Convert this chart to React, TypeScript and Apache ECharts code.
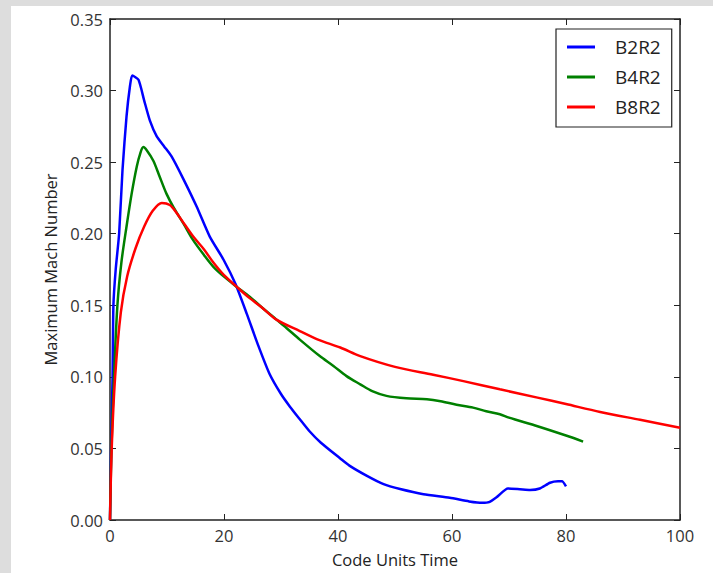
import React, { useEffect, useRef } from "react";
import * as echarts from "echarts";

const seriesNames = ["B2R2", "B4R2", "B8R2"];
const seriesColors = ["#0000ff", "#008000", "#ff0000"];

const b2r2Time = [0, 0.2, 0.45, 0.6, 1.0, 1.6, 2.2, 2.9, 3.5, 3.9, 5.0, 6.0, 7.0, 8.2, 9.5, 10.8, 12.9, 15.2, 17.5, 19.9, 22.0, 24.0, 26.0, 28.0, 30.0, 31.6, 33.3, 35.0, 37.0, 40.4, 42.0, 45.0, 48.0, 50.9, 55.0, 59.6, 63.0, 65.3, 66.5, 68.0, 69.8, 71.9, 73.7, 75.4, 77.2, 78.6, 79.3, 80.0];
const b2r2Mach = [0, 0.05, 0.10, 0.15, 0.175, 0.20, 0.245, 0.282, 0.303, 0.3105, 0.3075, 0.293, 0.279, 0.268, 0.261, 0.254, 0.238, 0.219, 0.198, 0.182, 0.165, 0.144, 0.122, 0.102, 0.088, 0.079, 0.0704, 0.062, 0.054, 0.043, 0.038, 0.031, 0.025, 0.0216, 0.018, 0.0155, 0.013, 0.012, 0.0125, 0.0165, 0.022, 0.0215, 0.021, 0.022, 0.026, 0.027, 0.027, 0.0235];

const b4r2Time = [0, 0.25, 0.7, 1.3, 2.0, 2.9, 3.8, 4.7, 5.3, 5.85, 6.5, 7.6, 8.7, 9.9, 11.2, 12.9, 14.5, 16.5, 18.1, 20.0, 22.2, 24.5, 26.5, 29.2, 31.0, 33.3, 36.8, 39.2, 41.5, 43.9, 46.0, 48.5, 52.0, 55.6, 58.0, 60.8, 63.7, 66.0, 68.4, 70.0, 75.0, 80.0, 83.0];
const b4r2Mach = [0, 0.05, 0.10, 0.15, 0.18, 0.205, 0.228, 0.247, 0.256, 0.2605, 0.258, 0.251, 0.240, 0.228, 0.218, 0.207, 0.196, 0.185, 0.177, 0.170, 0.163, 0.156, 0.149, 0.140, 0.134, 0.126, 0.1145, 0.1076, 0.1005, 0.0948, 0.090, 0.0867, 0.085, 0.0844, 0.083, 0.0805, 0.0785, 0.076, 0.0739, 0.0715, 0.0655, 0.059, 0.0548];

const b8r2Time = [0, 0.3, 0.9, 1.9, 3.0, 4.5, 6.0, 7.5, 9.1, 10.5, 11.7, 13.0, 14.6, 16.5, 18.1, 20.0, 22.2, 24.5, 26.5, 29.2, 33.3, 36.5, 40.4, 43.9, 50.0, 56.7, 62.0, 68.4, 75.0, 80.0, 86.0, 93.0, 100.0];
const b8r2Mach = [0, 0.05, 0.10, 0.145, 0.17, 0.19, 0.205, 0.216, 0.2215, 0.220, 0.2145, 0.207, 0.198, 0.189, 0.180, 0.171, 0.163, 0.155, 0.149, 0.140, 0.132, 0.126, 0.1205, 0.1145, 0.107, 0.1015, 0.097, 0.0913, 0.0855, 0.081, 0.0755, 0.070, 0.0645];

const xTicks = [0, 20, 40, 60, 80, 100];
const yTicks = [0, 0.05, 0.1, 0.15, 0.2, 0.25, 0.3, 0.35];

const times = [b2r2Time, b4r2Time, b8r2Time];
const machs = [b2r2Mach, b4r2Mach, b8r2Mach];
const smoothness = [0.2, 0.3, 0.3];

export default function App() {
  const ref = useRef<HTMLDivElement>(null);
  useEffect(() => {
    document.body.style.margin = "0";
    if (!ref.current) return;
    const chart = echarts.init(ref.current, undefined, { renderer: "svg" });
    const font = "'Open Sans', 'Noto Sans', sans-serif";
    const axisLine = { show: true, onZero: false, lineStyle: { color: "#222", width: 1.5 } };
    const tickStyle = { show: true, inside: true, length: 6, lineStyle: { color: "#222", width: 1 } };
    const series = seriesNames.map((name, i) => ({
      name,
      type: "line",
      xAxisIndex: 0,
      yAxisIndex: 0,
      symbol: "none",
      smooth: smoothness[i],
      data: times[i].map((t, j) => [t, machs[i][j]]),
      lineStyle: { color: seriesColors[i], width: 2.5 },
      itemStyle: { color: seriesColors[i] },
      z: 3,
    }));
    chart.setOption({
      animation: false,
      backgroundColor: "#dddddd",
      textStyle: { fontFamily: font },
      graphic: [
        { type: "rect", shape: { x: 11, y: 6, width: 713, height: 573 }, style: { fill: "#ffffff" }, z: -10, silent: true },
      ],
      grid: { left: 110, top: 19, width: 570, height: 502, containLabel: false, show: false },
      legend: {
        orient: "vertical",
        left: 556,
        top: 29,
        padding: [8, 11, 10, 11],
        backgroundColor: "#ffffff",
        borderColor: "#222",
        borderWidth: 1.2,
        borderRadius: 0,
        icon: "rect",
        itemWidth: 28,
        itemHeight: 3,
        itemGap: 10,
        data: seriesNames,
        textStyle: { fontSize: 19, color: "#222", fontFamily: font, lineHeight: 20, padding: [0, 0, 0, 15] },
      },
      xAxis: [
        {
          type: "value",
          min: 0,
          max: 100,
          interval: 20,
          position: "bottom",
          name: "Code Units Time",
          nameLocation: "middle",
          nameGap: 31,
          nameTextStyle: { fontSize: 16.5, color: "#222", fontFamily: font },
          axisLine,
          axisTick: tickStyle,
          axisLabel: { fontSize: 16.5, color: "#333", margin: 7, fontFamily: font, formatter: (v: number) => (xTicks.includes(v) ? String(v) : "") },
          splitLine: { show: false },
        },
        {
          type: "value",
          min: 0,
          max: 100,
          interval: 20,
          position: "top",
          axisLine,
          axisTick: tickStyle,
          axisLabel: { show: false },
          splitLine: { show: false },
        },
      ],
      yAxis: [
        {
          type: "value",
          min: 0,
          max: 0.35,
          interval: 0.05,
          position: "left",
          name: "Maximum Mach Number",
          nameLocation: "middle",
          nameGap: 50,
          nameRotate: 90,
          nameTextStyle: { fontSize: 16.5, color: "#222", fontFamily: font },
          axisLine,
          axisTick: tickStyle,
          axisLabel: {
            fontSize: 16.5,
            color: "#333",
            margin: 7,
            fontFamily: font,
            formatter: (v: number) => {
              const m = yTicks.find((t) => Math.abs(t - v) < 1e-9);
              return m === undefined ? "" : m.toFixed(2);
            },
          },
          splitLine: { show: false },
        },
        {
          type: "value",
          min: 0,
          max: 0.35,
          interval: 0.05,
          position: "right",
          axisLine,
          axisTick: tickStyle,
          axisLabel: { show: false },
          splitLine: { show: false },
        },
      ],
      series,
    });
    return () => chart.dispose();
  }, []);
  return <div ref={ref} style={{ width: 713, height: 573 }} />;
}
